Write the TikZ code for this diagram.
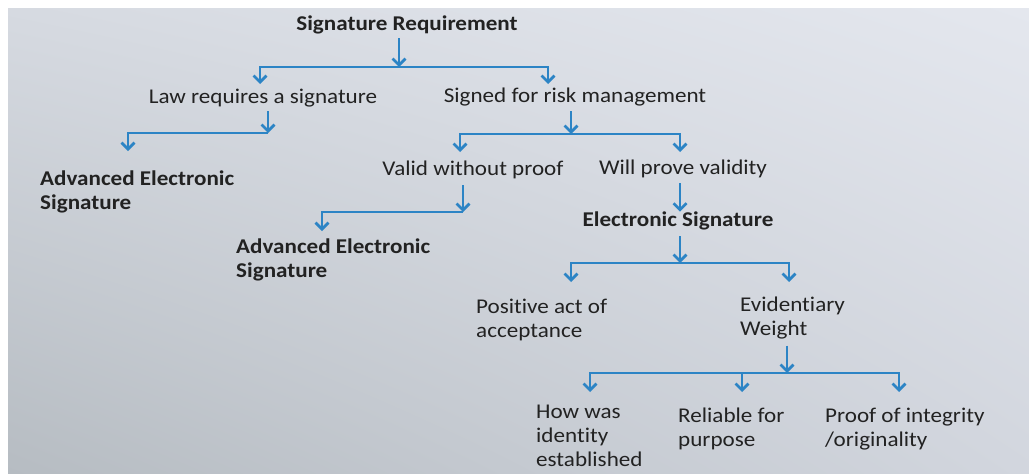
\documentclass[tikz,border=0pt]{standalone}
\usepackage{fontspec}
\setmainfont{Carlito}[FakeStretch=1.1, Ligatures=NoCommon]
\usetikzlibrary{arrows.meta,shadings}
\definecolor{inkgray}{HTML}{222222}
\definecolor{flowblue}{HTML}{2C84C5}
\definecolor{paperUL}{RGB}{214,218,225}
\definecolor{paperUR}{RGB}{228,231,238}
\definecolor{paperLL}{RGB}{182,188,194}
\definecolor{paperLR}{RGB}{210,214,222}
\tikzset{
  lbl/.style={inner sep=0pt, text=inkgray, font=\fontsize{21}{24}\selectfont},
  lblb/.style={lbl, font=\fontsize{21}{24}\selectfont\bfseries},
  blk/.style={lbl, align=left, anchor=north west},
  blkb/.style={lblb, align=left, anchor=north west},
  barb/.style={Straight Barb[length=6.5pt,width=13pt,line width=2.7pt]},
  arr/.style={draw=flowblue, line width=2.7pt, -{Straight Barb[length=6.5pt,width=13pt,line width=2.7pt]}},
  fork/.style={draw=flowblue, line width=2.7pt, {Straight Barb[length=6.5pt,width=13pt,line width=2.7pt]}-{Straight Barb[length=6.5pt,width=13pt,line width=2.7pt]}},
}
\begin{document}
\begin{tikzpicture}[x=1pt,y=-1pt]
% page and paper
\useasboundingbox (0,0) rectangle (1029,474);
\fill[white] (0,0) rectangle (1029,474);
\shade[upper left=paperUL, upper right=paperUR,
       lower left=paperLL, lower right=paperLR]
  (8,8) rectangle (1029,474);

% texts
\node[lblb] (title) at (407,25) {Signature Requirement};
\node[lbl] (law) at (263,98) {Law requires a signature};
\node[lbl] (risk) at (575,97) {Signed for risk management};
\node[blkb] (aes1) at (40,171) {Advanced Electronic\\Signature};
\node[lbl] (valid) at (473,170) {Valid without proof};
\node[lbl] (will) at (683,169) {Will prove validity};
\node[blkb] (aes2) at (236,239) {Advanced Electronic\\Signature};
\node[lblb] (esig) at (678,221) {Electronic Signature};
\node[blk] (pos) at (476,299) {Positive act of\\acceptance};
\node[blk] (evid) at (740,297) {Evidentiary\\Weight};
\node[blk] (how) at (536,405) {How was\\identity\\established};
\node[blk] (rel) at (678,408) {Reliable for\\purpose};
\node[blk] (proof) at (825,408) {Proof of integrity\\/originality};

% junctions on the forks and the ends of the branches
\coordinate (j1) at (399,67);
\coordinate (d1a) at (260,84);
\coordinate (d1b) at (548,84);
\coordinate (j2) at (268,133);
\coordinate (d2a) at (128,151);
\coordinate (j3) at (571,134);
\coordinate (d3a) at (460,152);
\coordinate (d3b) at (680,152);
\coordinate (j4) at (463,212);
\coordinate (d4a) at (322,231);
\coordinate (j5) at (680,207);
\coordinate (j6) at (680,263);
\coordinate (d6a) at (571,282);
\coordinate (d6b) at (789,282);
\coordinate (j7) at (787,373);
\coordinate (d7a) at (590,392);
\coordinate (d7b) at (742,392);
\coordinate (d7c) at (899,392);

% Signature Requirement
\draw[arr] (title.south -| j1) ++(0,4) -- (j1);
\draw[fork] (d1a) -- (d1a |- j1) -- (d1b |- j1) -- (d1b);

% Law requires a signature
\draw[arr] (law.south -| j2) ++(0,4) -- (j2);
\draw[arr] (j2) -| (d2a);

% Signed for risk management
\draw[arr] (risk.south -| j3) ++(0,5) -- (j3);
\draw[fork] (d3a) -- (d3a |- j3) -- (d3b |- j3) -- (d3b);

% Valid without proof
\draw[arr] (valid.south -| j4) ++(0,6) -- (j4);
\draw[arr] (j4) -| (d4a);

% Will prove validity
\draw[arr] (will.south -| j5) ++(0,5) -- (esig.north -| j5);

% Electronic Signature
\draw[arr] (esig.south -| j6) ++(0,6) -- (j6);
\draw[fork] (d6a) -- (d6a |- j6) -- (d6b |- j6) -- (d6b);

% Evidentiary Weight
\draw[arr] (evid.south -| j7) ++(0,6) -- (j7);
\draw[fork] (d7a) -- (d7a |- j7) -- (d7c |- j7) -- (d7c);
\draw[arr] (d7b |- j7) -- (d7b);
\end{tikzpicture}
\end{document}
